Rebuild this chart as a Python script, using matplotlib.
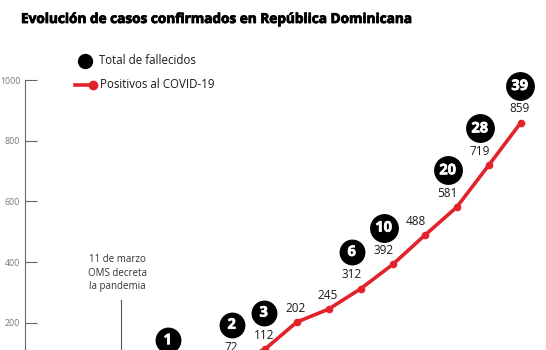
import matplotlib
matplotlib.use("Agg")
import matplotlib.pyplot as plt
from matplotlib.lines import Line2D
from matplotlib.transforms import offset_copy
import matplotlib.patheffects as pe

# ---- data ----
fechas = ["18 mar", "19 mar", "20 mar", "21 mar", "22 mar", "23 mar",
          "24 mar", "25 mar", "26 mar", "27 mar", "28 mar", "29 mar"]
positivos = [21, 34, 72, 112, 202, 245, 312, 392, 488, 581, 719, 859]
fallecidos = [1, None, 2, 3, None, None, 6, 10, None, 20, 28, 39]
yticks = [0, 200, 400, 600, 800, 1000]
evento_x = -1.5
evento_texto = "11 de marzo\nOMS decreta\nla pandemia"
titulo = "Evolución de casos confirmados en República Dominicana"

W, H = 546, 350
DPI = 100
fig = plt.figure(figsize=(W / DPI, H / DPI), dpi=DPI)
plt.rcParams['font.family'] = ['Open Sans', 'DejaVu Sans']

def fx(px):
    return px / W

def fy(py):
    return 1 - py / H

RED = "#e3222b"
DARK = "#1a1a1a"

ax_left, ax_top, ax_bottom = 25, 80, 383.4
ax = fig.add_axes([fx(ax_left), fy(ax_bottom), 1 - fx(ax_left), (ax_bottom - ax_top) / H])
ax.set_ylim(0, 1000)
ax.set_xlim(-4.49, 11.79)
for s in ["top", "right", "bottom"]:
    ax.spines[s].set_visible(False)
ax.spines["left"].set_color("#666666")
ax.spines["left"].set_linewidth(0.8)
ax.set_xticks([])
ax.set_yticks(yticks)
ax.set_yticklabels([str(v) for v in yticks])
ax.tick_params(axis="y", direction="in", length=8.6, width=0.8, color="#666666",
               labelsize=6.3, labelcolor="#777777", pad=3.5)
ax.patch.set_alpha(0)

x = list(range(len(positivos)))
ax.plot(x, positivos, color=RED, lw=2.6, marker="o", ms=4.5, mfc=RED, mec=RED,
        solid_capstyle="round", zorder=3, clip_on=False)

n = len(positivos)
for i, (v, d) in enumerate(zip(positivos, fallecidos)):
    dx = -9 if 5 < i < n - 1 else -1
    if v > 60:
        ax.annotate(str(v), (i, v), xytext=(dx * 0.72, 10), textcoords="offset points",
                    ha="center", va="center", fontsize=8.5, color=DARK, zorder=5)
    if d is not None:
        size = 310 if d < 10 else 390
        ax.annotate(str(d), (i, v), xytext=(dx * 0.72, 26.5), textcoords="offset points",
                    ha="center", va="center", fontsize=10.5, fontweight="bold",
                    color="white", zorder=6,
                    path_effects=[pe.withStroke(linewidth=0.5, foreground="white")])
        tr = offset_copy(ax.transData, fig=fig, x=dx * 0.72, y=26.5, units="points")
        ax.scatter([i], [v], s=size, color="black", transform=tr, zorder=5.5,
                   clip_on=False)

# event marker
ax.plot([evento_x, evento_x], [0, 275], color="#555555", lw=0.8, zorder=2)
ax.text(evento_x - 0.1, 300, evento_texto, ha="center", va="bottom",
        fontsize=7, color="#333333", linespacing=1.35)

# title
fig.text(fx(21), fy(19), titulo, ha="left", va="center", fontsize=9.8,
         fontweight="bold", color="black",
         path_effects=[pe.withStroke(linewidth=0.6, foreground="black")])

# legend
fig.add_artist(Line2D([fx(85)], [fy(61)], marker="o", ms=10, color="black",
                      transform=fig.transFigure))
fig.text(fx(99), fy(61), "Total de fallecidos", ha="left", va="center",
         fontsize=8.3, color=DARK)
fig.add_artist(Line2D([fx(75), fx(93)], [fy(85), fy(85)], color=RED, lw=2.6,
                      transform=fig.transFigure))
fig.add_artist(Line2D([fx(93)], [fy(85)], marker="o", ms=6, color=RED,
                      transform=fig.transFigure))
fig.text(fx(100), fy(85), "Positivos al COVID-19", ha="left", va="center",
         fontsize=8.3, color=DARK)

fig.savefig("out.png", dpi=DPI)
